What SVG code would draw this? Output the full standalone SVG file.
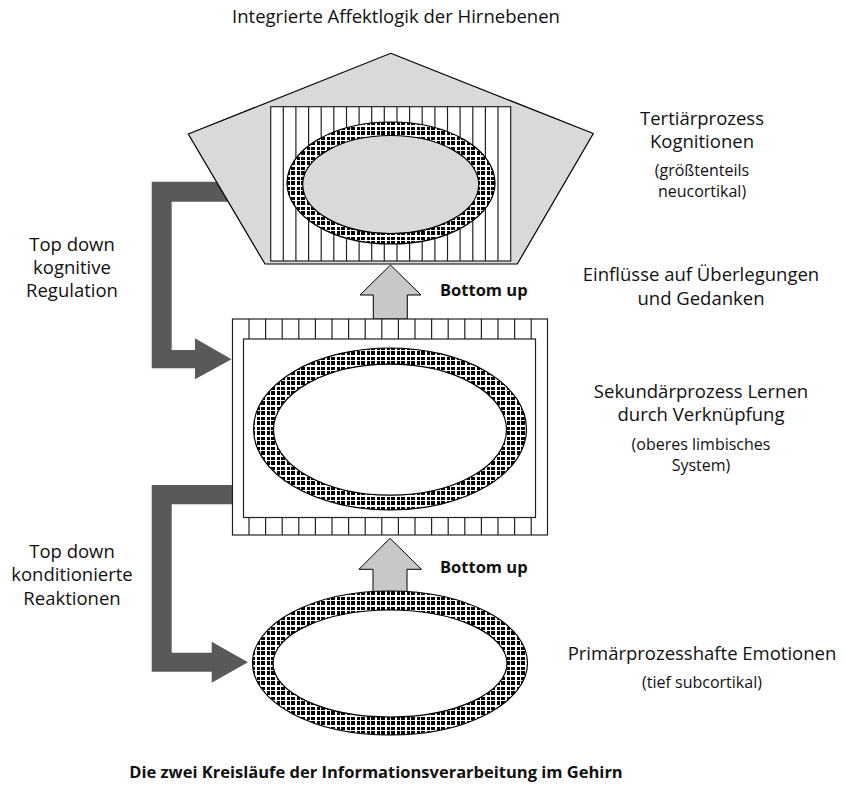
<svg xmlns="http://www.w3.org/2000/svg" width="846" height="800" viewBox="0 0 846 800">
<defs>
<pattern id="chk" patternUnits="userSpaceOnUse" width="10" height="10">
<rect width="10" height="10" fill="#ffffff" shape-rendering="crispEdges"/>
<g fill="#000000" shape-rendering="crispEdges">
<rect x="1" y="1" width="4" height="4"/>
<rect x="7" y="1" width="3" height="4"/>
<rect x="1" y="7" width="4" height="3"/>
<rect x="7" y="7" width="3" height="3"/>
</g>
</pattern>
<style>
.t{font-family:"Open Sans","Liberation Sans",sans-serif;font-size:18.5px;fill:#111;text-anchor:middle}
.s{font-family:"Open Sans","Liberation Sans",sans-serif;font-size:16px;fill:#111;text-anchor:middle}
.b{font-family:"Open Sans","Liberation Sans",sans-serif;font-size:16.5px;font-weight:bold;fill:#111}
.td{fill:#595959;stroke:none}
.bu{fill:#c8c8c8;stroke:#000;stroke-width:1}
.ring{fill:url(#chk);stroke:#000;stroke-width:1.2}
.st{stroke:#222;stroke-width:1.2}
</style>
</defs>
<rect width="846" height="800" fill="#ffffff"/>

<g id="connectors">
<path class="td" d="M240 181.7 H151.7 V368.3 H195 V379.3 L231.5 359.2 L195 338.3 V350 H171.7 V201.7 H240 Z"/>
<path class="td" d="M233 485 H151.7 V671.7 H211.7 V682.7 L248 662.2 L211.7 641.7 V652.7 H171.7 V504.3 H233 Z"/>
<path class="bu" d="M373.3 319 V295 H360 L390.5 265 L421 295 H407.3 V319 Z"/>
<path class="bu" d="M373 596 V569.3 H359 L390 538.3 L421.5 569.3 H407 V596 Z"/>
</g>

<g id="tertiaer">
<polygon points="390.7,53.3 593.3,133.5 517.3,264 265,264 188.3,134" fill="#d9d9d9" stroke="#000" stroke-width="1.2"/>
<rect x="270.7" y="106.7" width="240" height="154.3" fill="#ffffff" stroke="#222" stroke-width="1.2"/>
<g class="st">
<line x1="283.3" y1="106.7" x2="283.3" y2="261"/><line x1="295.9" y1="106.7" x2="295.9" y2="261"/>
<line x1="308.6" y1="106.7" x2="308.6" y2="261"/><line x1="321.2" y1="106.7" x2="321.2" y2="261"/>
<line x1="333.8" y1="106.7" x2="333.8" y2="261"/><line x1="346.5" y1="106.7" x2="346.5" y2="261"/>
<line x1="359.1" y1="106.7" x2="359.1" y2="261"/><line x1="371.7" y1="106.7" x2="371.7" y2="261"/>
<line x1="384.3" y1="106.7" x2="384.3" y2="261"/><line x1="397.0" y1="106.7" x2="397.0" y2="261"/>
<line x1="409.6" y1="106.7" x2="409.6" y2="261"/><line x1="422.2" y1="106.7" x2="422.2" y2="261"/>
<line x1="434.9" y1="106.7" x2="434.9" y2="261"/><line x1="447.5" y1="106.7" x2="447.5" y2="261"/>
<line x1="460.1" y1="106.7" x2="460.1" y2="261"/><line x1="472.8" y1="106.7" x2="472.8" y2="261"/>
<line x1="485.4" y1="106.7" x2="485.4" y2="261"/><line x1="498.0" y1="106.7" x2="498.0" y2="261"/>
</g>
<ellipse class="ring" cx="391" cy="183" rx="104" ry="61"/>
<ellipse cx="390.7" cy="184.5" rx="88" ry="49" fill="#d9d9d9" stroke="#000" stroke-width="1.2"/>
</g>

<g id="sekundaer">
<rect x="232.5" y="319" width="315" height="216" fill="#ffffff" stroke="#222" stroke-width="1.2"/>
<g class="st">
<line x1="249" y1="319" x2="249" y2="535"/><line x1="265.6" y1="319" x2="265.6" y2="535"/>
<line x1="282.2" y1="319" x2="282.2" y2="535"/><line x1="298.8" y1="319" x2="298.8" y2="535"/>
<line x1="315.4" y1="319" x2="315.4" y2="535"/><line x1="332" y1="319" x2="332" y2="535"/>
<line x1="348.6" y1="319" x2="348.6" y2="535"/><line x1="365.2" y1="319" x2="365.2" y2="535"/>
<line x1="381.8" y1="319" x2="381.8" y2="535"/><line x1="398.4" y1="319" x2="398.4" y2="535"/>
<line x1="415" y1="319" x2="415" y2="535"/><line x1="431.6" y1="319" x2="431.6" y2="535"/>
<line x1="448.2" y1="319" x2="448.2" y2="535"/><line x1="464.8" y1="319" x2="464.8" y2="535"/>
<line x1="481.4" y1="319" x2="481.4" y2="535"/><line x1="498" y1="319" x2="498" y2="535"/>
<line x1="514.6" y1="319" x2="514.6" y2="535"/><line x1="531.2" y1="319" x2="531.2" y2="535"/>
</g>
<rect x="243.5" y="339" width="292" height="178.5" fill="#ffffff" stroke="#222" stroke-width="1.2"/>
<ellipse class="ring" cx="390" cy="429" rx="136.5" ry="81"/>
<ellipse cx="390" cy="429.7" rx="116.5" ry="65.5" fill="#ffffff" stroke="#000" stroke-width="1.2"/>
</g>

<g id="primaer">
<ellipse class="ring" cx="390" cy="663" rx="137.5" ry="72"/>
<ellipse cx="390" cy="663.5" rx="117" ry="53.5" fill="#ffffff" stroke="#000" stroke-width="1.2"/>
</g>

<g id="labels">
<text class="t" x="396" y="23">Integrierte Affektlogik der Hirnebenen</text>
<text class="t" x="702" y="125">Tertiärprozess</text>
<text class="t" x="702" y="148">Kognitionen</text>
<text class="s" x="702" y="176">(größtenteils</text>
<text class="s" x="702" y="197">neucortikal)</text>
<text class="t" x="701" y="281">Einflüsse auf Überlegungen</text>
<text class="t" x="701" y="305">und Gedanken</text>
<text class="t" x="701" y="398">Sekundärprozess Lernen</text>
<text class="t" x="701" y="421">durch Verknüpfung</text>
<text class="s" x="701" y="450">(oberes limbisches</text>
<text class="s" x="701" y="470.5">System)</text>
<text class="t" x="702" y="660">Primärprozesshafte Emotionen</text>
<text class="s" x="702" y="688">(tief subcortikal)</text>
<text class="t" x="72" y="251">Top down</text>
<text class="t" x="72" y="274">kognitive</text>
<text class="t" x="72" y="297">Regulation</text>
<text class="t" x="72" y="558">Top down</text>
<text class="t" x="72" y="581">konditionierte</text>
<text class="t" x="72" y="605">Reaktionen</text>
<text class="b" x="440" y="296">Bottom up</text>
<text class="b" x="440" y="573">Bottom up</text>
<text class="b" x="376" y="778" style="text-anchor:middle">Die zwei Kreisläufe der Informationsverarbeitung im Gehirn</text>
</g>
</svg>
